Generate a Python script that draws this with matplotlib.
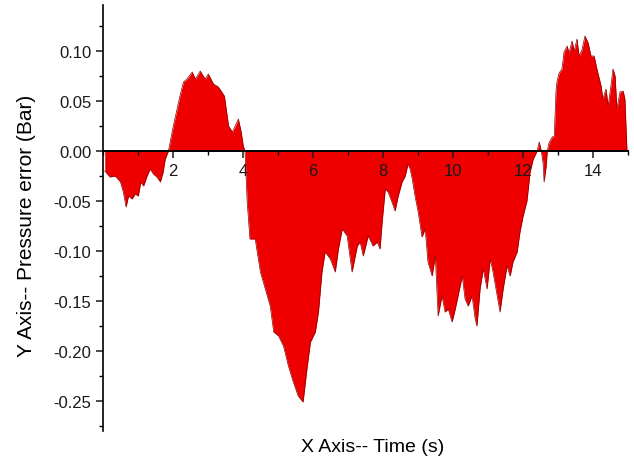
import numpy as np
import matplotlib
matplotlib.use("Agg")
import matplotlib.pyplot as plt
from matplotlib.ticker import MultipleLocator, FormatStrFormatter

plt.rcParams['font.family'] = ['Liberation Sans', 'DejaVu Sans']
plt.rcParams['axes.unicode_minus'] = False

# tiempo (s) y error de presion (Bar)
tiempo = [0.05, 0.2, 0.35, 0.5, 0.58, 0.66, 0.73, 0.83, 0.92, 1.01, 1.08, 1.16, 1.26, 1.35, 1.44,
          1.54, 1.64, 1.72, 1.78, 1.87, 1.92, 2.01, 2.1, 2.2, 2.3, 2.4, 2.55, 2.64, 2.78, 2.92,
          3.01, 3.16, 3.3, 3.47, 3.59, 3.7, 3.78, 3.87, 3.95, 4.01, 4.06, 4.12, 4.2, 4.35, 4.5,
          4.64, 4.78, 4.88, 5.02, 5.16, 5.3, 5.44, 5.58, 5.72, 5.83, 5.93, 6.07, 6.16, 6.26, 6.35,
          6.5, 6.64, 6.73, 6.84, 6.98, 7.12, 7.27, 7.35, 7.44, 7.58, 7.72, 7.84, 7.92, 7.98, 8.07,
          8.15, 8.26, 8.35, 8.44, 8.55, 8.64, 8.72, 8.78, 8.84, 8.92, 9.01, 9.12, 9.21, 9.29, 9.41,
          9.5, 9.58, 9.69, 9.78, 9.87, 9.98, 10.07, 10.15, 10.27, 10.35, 10.44, 10.55, 10.64, 10.69,
          10.78, 10.87, 10.98, 11.07, 11.15, 11.27, 11.35, 11.44, 11.55, 11.64, 11.72, 11.84, 11.92,
          12.01, 12.12, 12.21, 12.3, 12.41, 12.47, 12.53, 12.58, 12.61, 12.67, 12.7, 12.75, 12.84,
          12.9, 12.95, 12.98, 13.04, 13.12, 13.18, 13.27, 13.32, 13.41, 13.47, 13.55, 13.61, 13.69,
          13.78, 13.87, 13.95, 14.04, 14.12, 14.24, 14.29, 14.38, 14.44, 14.52, 14.58, 14.64, 14.69,
          14.78, 14.87, 14.92, 14.98]
error = [-0.02, -0.026, -0.025, -0.031, -0.041, -0.056, -0.045, -0.048, -0.043, -0.045, -0.031,
         -0.035, -0.025, -0.018, -0.023, -0.026, -0.031, -0.021, -0.008, 0.0, 0.009, 0.025, 0.039,
         0.055, 0.069, 0.072, 0.079, 0.072, 0.080, 0.072, 0.077, 0.067, 0.064, 0.055, 0.025, 0.019,
         0.025, 0.032, 0.019, 0.005, 0.0, -0.05, -0.088, -0.088, -0.121, -0.138, -0.155, -0.181,
         -0.185, -0.195, -0.215, -0.231, -0.245, -0.251, -0.218, -0.191, -0.181, -0.161, -0.121,
         -0.101, -0.108, -0.121, -0.098, -0.078, -0.085, -0.121, -0.095, -0.091, -0.105, -0.085,
         -0.095, -0.091, -0.098, -0.071, -0.038, -0.041, -0.051, -0.060, -0.045, -0.031, -0.025,
         -0.013, -0.018, -0.028, -0.045, -0.061, -0.086, -0.078, -0.111, -0.125, -0.105, -0.165,
         -0.145, -0.161, -0.158, -0.171, -0.158, -0.145, -0.125, -0.148, -0.155, -0.145, -0.168,
         -0.175, -0.138, -0.118, -0.138, -0.108, -0.121, -0.145, -0.161, -0.138, -0.115, -0.125,
         -0.111, -0.101, -0.081, -0.065, -0.050, -0.021, -0.008, 0.0, 0.009, 0.0, -0.012, -0.031,
         -0.015, 0.0, 0.008, 0.014, 0.015, 0.060, 0.070, 0.078, 0.082, 0.099, 0.105, 0.098, 0.110,
         0.100, 0.112, 0.095, 0.101, 0.115, 0.108, 0.095, 0.095, 0.082, 0.065, 0.052, 0.062, 0.045,
         0.065, 0.082, 0.075, 0.042, 0.059, 0.060, 0.052, 0.0]

x_ticks = [2, 4, 6, 8, 10, 12, 14]
y_ticks = [-0.25, -0.20, -0.15, -0.10, -0.05, 0.00, 0.05, 0.10]

t = np.array(tiempo)
e = np.array(error)

fig = plt.figure(figsize=(6.34, 4.64), dpi=100)
ax = fig.add_axes([103 / 634, 1 - 432 / 464, 524.7 / 634, 426 / 464])

ax.fill_between(t, 0, e, color='#ee0000', linewidth=0)
ax.plot(t, e, color='#8a0000', linewidth=0.5)

ax.set_xlim(0, 15)
ax.set_ylim(-0.28, 0.146)

# ejes: eje x en cero, solo eje y a la izquierda
ax.spines['top'].set_visible(False)
ax.spines['right'].set_visible(False)
ax.spines['bottom'].set_position(('data', 0))
ax.spines['bottom'].set_linewidth(1.4)
ax.spines['left'].set_linewidth(1.2)
ax.spines['bottom'].set_zorder(5)

ax.set_xticks(x_ticks)
ax.xaxis.set_minor_locator(MultipleLocator(1))
ax.set_yticks(y_ticks)
ax.yaxis.set_minor_locator(MultipleLocator(0.025))
ax.yaxis.set_major_formatter(FormatStrFormatter('%.2f'))

ax.tick_params(axis='both', which='major', direction='out', length=5, width=1.1,
               labelsize=12, colors='#1a1a1a')
ax.tick_params(axis='both', which='minor', direction='out', length=3, width=1.0)
ax.tick_params(axis='x', which='major', pad=4)

ax.set_xlabel("X Axis-- Time (s)", fontsize=14)
ax.set_ylabel("Y Axis-- Pressure error (Bar)", fontsize=15)
ax.xaxis.set_label_coords(0.513, -0.016)
ax.yaxis.set_label_coords(-0.128, 0.485)

fig.savefig("out.png", dpi=100)
